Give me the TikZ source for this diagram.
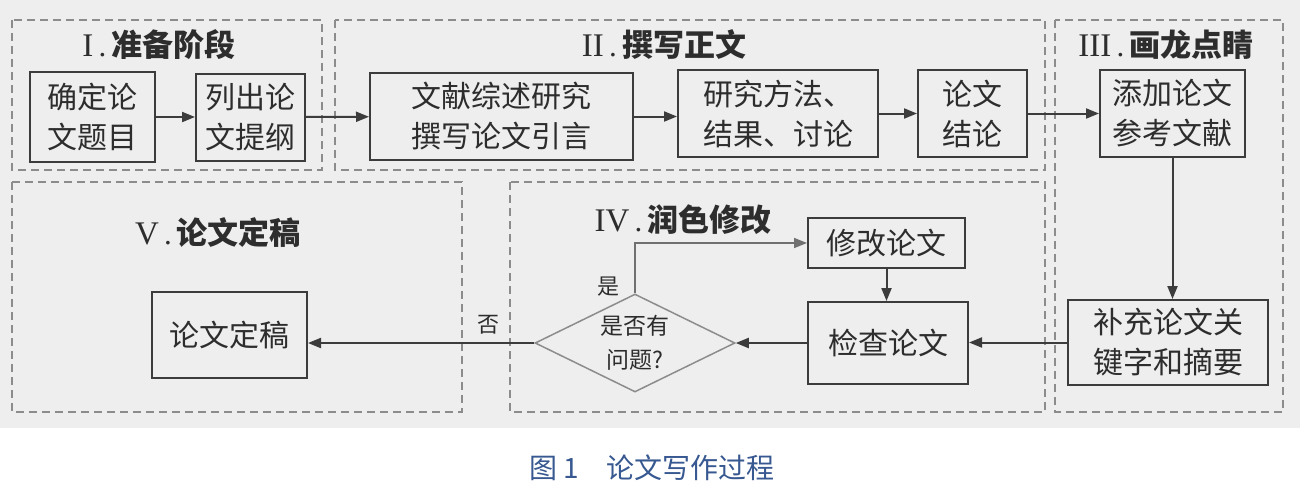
\documentclass[tikz,border=0pt]{standalone}
\usepackage{fontspec}
\setmainfont{Liberation Serif}
\newfontfamily\cjk{Noto Sans CJK SC}
\usetikzlibrary{arrows.meta,shapes.geometric}
\definecolor{bg}{RGB}{238,238,238}
\definecolor{linec}{RGB}{60,60,60}
\definecolor{dashc}{RGB}{140,140,140}
\definecolor{txt}{RGB}{45,45,45}
\definecolor{capc}{RGB}{55,88,145}
\newcommand{\rnum}[1]{{\fontsize{33}{34}\selectfont #1}}
\begin{document}
\begin{tikzpicture}[x=1pt,y=-1pt,
  box/.style={draw=linec, line width=2pt, fill=bg, text=txt, align=center, inner sep=0pt,
    font=\cjk\fontsize{30}{40}\selectfont},
  panel/.style={draw=dashc, line width=1.5pt, dash pattern=on 8pt off 5pt},
  arr/.style={draw=linec, line width=2pt, -{Triangle[length=13pt,width=10pt]}},
  ttl/.style={text=txt, inner sep=0pt, font=\fontsize{31}{34}\selectfont},
  lbl/.style={text=txt, inner sep=0pt, font=\cjk\fontsize{22}{24}\selectfont}]
\useasboundingbox (0,0) rectangle (1300,498);
\fill[bg] (0,0) rectangle (1300,428);
\fill[white] (0,428) rectangle (1300,498);
% panels
\draw[panel] (12,20) rectangle (322,170);
\draw[panel] (335,20) rectangle (1045,170);
\draw[panel] (1055,20) rectangle (1283,412);
\draw[panel] (12,182) rectangle (462,412);
\draw[panel] (510,182) rectangle (1045,412);
% titles
\node[ttl] (t1) at (159,45) {\rnum{I}\,.\,{\cjk\bfseries 准备阶段}};
\node[ttl] (t2) at (664,45) {\rnum{II}\,.\,{\cjk\bfseries 撰写正文}};
\node[ttl] (t3) at (1166,45) {\rnum{III}\,.\,{\cjk\bfseries 画龙点睛}};
\node[ttl] (t5) at (218,233) {\rnum{V}\,.\,{\cjk\bfseries 论文定稿}};
\node[ttl] (t4) at (683,220) {\rnum{IV}\,.\,{\cjk\bfseries 润色修改}};
% boxes
\node[box, minimum width=125, minimum height=90] (b1) at (92.5,117) {确定论\\文题目};
\node[box, minimum width=109, minimum height=87] (b2) at (250.5,117) {列出论\\文提纲};
\node[box, minimum width=263, minimum height=87] (b3) at (501.5,116.5) {文献综述研究\\撰写论文引言};
\node[box, minimum width=200, minimum height=87] (b4) at (778,113.5) {研究方法、\\结果、讨论};
\node[box, minimum width=109, minimum height=87] (b5) at (972.5,113.5) {论文\\结论};
\node[box, minimum width=145, minimum height=87] (b6) at (1172.5,113.5) {添加论文\\参考文献};
\node[box, minimum width=200, minimum height=85] (b7) at (1168,342.5) {补充论文关\\键字和摘要};
\node[box, minimum width=160, minimum height=82] (b8) at (888,343) {检查论文};
\node[box, minimum width=157, minimum height=50] (b9) at (886.5,243) {修改论文};
\node[box, minimum width=155, minimum height=86] (fin) at (229.5,335) {论文定稿};
\node[draw=dashc, line width=1.5pt, fill=bg, diamond, aspect=2.1, inner sep=0pt,
  minimum width=200, minimum height=98, text=txt, align=center,
  font=\cjk\fontsize{23}{34}\selectfont] (d) at (635,343) {是否有\\问题?};
% labels
\node[lbl] (yes) at (608,287) {是};
\node[lbl] (no) at (488,325) {否};
% connectors
\draw[arr] (b1) -- (b2);
\draw[arr] (b2) -- (b3);
\draw[arr] (b3.east) -- (b3.east -| b4.west);
\draw[arr] (b4) -- (b5);
\draw[arr] (b5) -- (b6);
\draw[arr] (b6.south) -- (b6.south |- b7.north);
\draw[arr] (b7.west) -- (b7.west -| b8.east);
\draw[arr] (b8.west) -- (d.east);
\draw[arr] (b9.south) -- (b9.south |- b8.north);
\draw[arr, line width=1.5pt, draw=dashc!80!black] (d.north) |- (b9.west);
\draw[arr] (d.west) -- (d.west -| fin.east);
% caption
\node[text=capc, inner sep=0pt, font=\cjk\fontsize{28}{32}\selectfont] (cap) at (652,468) {图 1\quad 论文写作过程};
\end{tikzpicture}
\end{document}
